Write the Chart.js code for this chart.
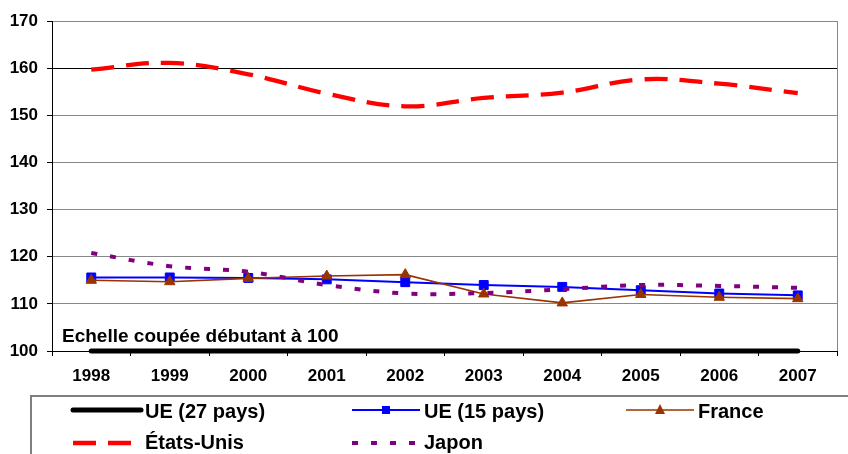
<!DOCTYPE html>
<html><head><meta charset="utf-8">
<script src="https://cdn.jsdelivr.net/npm/chart.js@4/dist/chart.umd.min.js"></script>
<style>html,body{margin:0;padding:0;background:#fff;overflow:hidden}#wrap{width:848px;height:454px;position:relative}</style>
</head><body><div id="wrap"><canvas id="c" width="848" height="454"></canvas></div>
<script>
const years = ['1998','1999','2000','2001','2002','2003','2004','2005','2006','2007'];
const ue27 = [100,100,100,100,100,100,100,100,100,100];
const ue15 = [115.6,115.6,115.5,115.2,114.6,114.0,113.6,112.9,112.2,111.8];
const france = [115.0,114.7,115.4,115.9,116.2,112.1,110.2,112.0,111.4,111.1];
const etatsUnis = [159.7,161.1,158.7,154.6,151.9,153.7,154.8,157.6,156.7,154.7];
const japon = [120.8,118.0,116.8,114.0,112.2,112.3,113.1,114.0,113.8,113.4];
const yMin = 100, yMax = 170, yStep = 10;
const seriesNames = ['UE (27 pays)','UE (15 pays)','France','États-Unis','Japon'];
const noteText = 'Echelle coupée débutant à 100';

const FONT = '"Liberation Sans", Arial, sans-serif';

const datasets = [
  {label: seriesNames[0], data: ue27, borderColor:'#000000', backgroundColor:'#000000', borderWidth:5, borderCapStyle:'round', pointRadius:0, tension:0, clip:false, order:5},
  {label: seriesNames[1], data: ue15, borderColor:'#0000FF', backgroundColor:'#0000FF', borderWidth:2, pointStyle:'rect', pointRadius:6.3, pointBorderWidth:1, tension:0, order:4},
  {label: seriesNames[2], data: france, borderColor:'#993300', backgroundColor:'#993300', borderWidth:1.6, pointStyle:'triangle', pointRadius:6, pointBorderWidth:1, tension:0, order:3},
  {label: seriesNames[3], data: etatsUnis, borderColor:'#FF0000', backgroundColor:'#FF0000', borderWidth:4.3, borderDash:[23,12], pointRadius:0, tension:0.4, order:2},
  {label: seriesNames[4], data: japon, borderColor:'#800080', backgroundColor:'#800080', borderWidth:4, borderDash:[6,13], pointRadius:0, tension:0.35, order:1}
];

const decor = {
  id:'decor',
  beforeDatasetsDraw(chart){
    const {ctx, chartArea:a} = chart;
    ctx.save();
    ctx.strokeStyle = '#888888'; ctx.lineWidth = 1;
    ctx.beginPath(); ctx.moveTo(Math.round(a.right)+0.5, a.top); ctx.lineTo(Math.round(a.right)+0.5, a.bottom); ctx.stroke();
    ctx.restore();
  },
  afterDraw(chart){
    const ctx = chart.ctx;
    const a = chart.chartArea;
    ctx.save();
    // note text
    ctx.fillStyle = '#000';
    ctx.font = 'bold 19px ' + FONT;
    ctx.textBaseline = 'alphabetic'; ctx.textAlign = 'left';
    ctx.fillText(noteText, a.left + 10, 341.5);
    // legend box
    ctx.strokeStyle = '#7f7f7f'; ctx.lineWidth = 2;
    ctx.strokeRect(31, 396, 900, 200);
    const cols = [73, 352, 626];
    const rows = [410, 443];
    const base = [417.5, 448.5];
    const sw = 68;
    const ds = chart.data.datasets;
    const pos = [[0,0],[1,0],[2,0],[0,1],[1,1]];
    ds.forEach((d, i) => {
      const x0 = cols[pos[i][0]], y = rows[pos[i][1]];
      ctx.save();
      ctx.strokeStyle = d.borderColor;
      ctx.lineWidth = d.borderWidth;
      ctx.lineCap = d.borderCapStyle || 'butt';
      ctx.setLineDash(d.borderDash || []);
      ctx.beginPath(); ctx.moveTo(x0, y); ctx.lineTo(x0 + sw, y); ctx.stroke();
      ctx.setLineDash([]);
      const cx = x0 + sw/2;
      ctx.fillStyle = d.backgroundColor;
      if (d.pointStyle === 'rect') { ctx.fillRect(cx-4, y-4, 8, 8); }
      if (d.pointStyle === 'triangle') {
        ctx.beginPath(); ctx.moveTo(cx, y-6); ctx.lineTo(cx+5, y+4); ctx.lineTo(cx-5, y+4); ctx.closePath(); ctx.fill();
      }
      ctx.restore();
      ctx.fillStyle = '#000';
      ctx.font = 'bold 20px ' + FONT;
      ctx.fillText(d.label, x0 + sw + 4, base[pos[i][1]]);
    });
    ctx.restore();
  }
};

new Chart(document.getElementById('c'), {
  type:'line',
  data:{labels: years, datasets},
  options:{
    responsive:false, animation:false, devicePixelRatio:1,
    layout:{padding:{top:21, right:11, bottom:63, left:0}},
    plugins:{legend:{display:false}, tooltip:{enabled:false}},
    scales:{
      x:{
        offset:true,
        grid:{display:true, offset:true, drawOnChartArea:false, drawTicks:true, tickLength:5, tickColor:'#000'},
        border:{display:true, color:'#000', width:1},
        ticks:{color:'#000', font:{family:FONT, size:17, weight:'bold'}, padding:10, maxRotation:0, autoSkip:false},
        afterFit(s){ s.height = 40; }
      },
      y:{
        min:yMin, max:yMax,
        grid:{color:(c)=> c.tick && c.tick.value===160 ? '#000' : '#888888', tickLength:5, tickColor:'#000'},
        border:{display:true, color:'#000', width:1},
        ticks:{stepSize:yStep, color:'#000', font:{family:FONT, size:17, weight:'bold'}, padding:9},
        afterFit(s){ s.width = 52; }
      }
    }
  },
  plugins:[decor]
});
</script></body></html>
